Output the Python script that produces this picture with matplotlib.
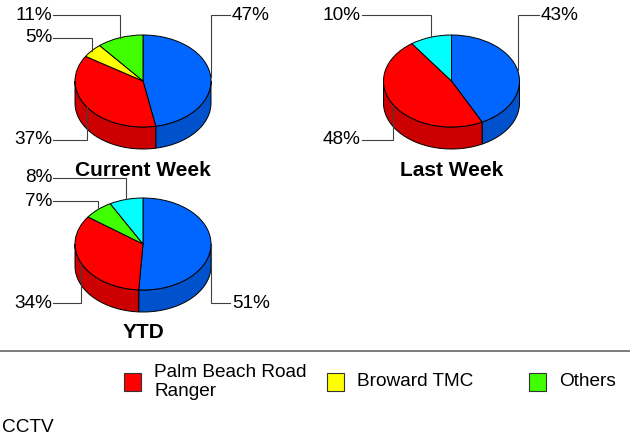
import numpy as np
import matplotlib
matplotlib.use("Agg")
import matplotlib.pyplot as plt
from matplotlib.patches import Wedge, Polygon, Rectangle
from matplotlib.transforms import Affine2D
from matplotlib.colors import to_rgb

plt.rcParams["font.family"] = ["Liberation Sans", "DejaVu Sans"]

# Sources, in the clockwise order the slices are drawn (starting at 12 o'clock)
categories = [None, "Palm Beach Road Ranger", "Broward TMC", "Others", "CCTV"]
colors = ["#0066FF", "#FF0000", "#FFFF00", "#40FF00", "#00FFFF"]

# Percent share per source; None = source absent from that period
titles = ["Current Week", "Last Week", "YTD"]
current_week = [47, 37, 5, 11, None]
last_week = [43, 48, None, None, 10]
ytd = [51, 34, None, 7, 8]

# Legend entries shown in the first row
legend_items = ["Palm Beach Road Ranger", "Broward TMC", "Others"]
legend_text = ["Palm Beach Road\nRanger", "Broward TMC", "Others"]
footer_text = "CCTV"

# ---- layout (pixel units of the canvas) ----
W, H = 630, 441
centers = [(143, 81), (451.5, 81), (143, 244)]
RX, RY, DEPTH = 68, 46, 22
LABEL_FS = 13.7
TITLE_FS = 15

fig = plt.figure(figsize=(W / 100, H / 100), dpi=100)
ax = fig.add_axes([0, 0, 1, 1])
ax.set_xlim(0, W)
ax.set_ylim(H, 0)
ax.axis("off")


def darker(c, f=0.8):
    r, g, b = to_rgb(c)
    return (r * f, g * f, b * f)


def draw_pie(values, center, title):
    cx, cy = center
    tr = Affine2D().scale(RX, -RY).translate(cx, cy)
    full = tr + ax.transData
    d = DEPTH / RY

    idx = [i for i, v in enumerate(values) if v is not None]
    vals = np.array([values[i] for i in idx], dtype=float)
    fr = vals / vals.sum()
    ends = np.cumsum(fr)
    starts = ends - fr

    slices = []
    for k, i in enumerate(idx):
        t_hi = 90 - starts[k] * 360
        t_lo = 90 - ends[k] * 360
        slices.append((i, t_lo, t_hi))

    # side walls (front half of the disc only)
    for i, t_lo, t_hi in slices:
        for kk in range(-2, 2):
            a = max(t_lo, 180 + 360 * kk)
            b = min(t_hi, 360 + 360 * kk)
            if b - a <= 0:
                continue
            t = np.radians(np.linspace(a, b, 80))
            top = np.column_stack([np.cos(t), np.sin(t)])
            bot = np.column_stack([np.cos(t[::-1]), np.sin(t[::-1]) - d])
            ax.add_patch(Polygon(np.vstack([top, bot]), closed=True,
                                 facecolor=darker(colors[i]), edgecolor="black",
                                 linewidth=0.7, transform=full, zorder=1))

    # top faces
    for i, t_lo, t_hi in slices:
        ax.add_patch(Wedge((0, 0), 1, t_lo, t_hi, facecolor=colors[i],
                           edgecolor="black", linewidth=0.7,
                           transform=full, zorder=2))

    # percentage labels with elbow leader lines
    anchors = []
    for (i, t_lo, t_hi) in slices:
        m = np.radians((t_lo + t_hi) / 2)
        px, py = tr.transform((np.cos(m), np.sin(m)))
        anchors.append((i, px, py))

    groups = {}
    for i, px, py in anchors:
        side = "L" if px < cx else "R"
        row = "T" if py < cy else "B"
        groups.setdefault((side, row), []).append((i, px, py))

    for (side, row), items in groups.items():
        items.sort(key=lambda it: it[2])
        for n, (i, px, py) in enumerate(items):
            ly = (cy - 66 + 23 * n) if row == "T" else (cy + 59 + 23 * n)
            if side == "L":
                ex = cx - 90
                tx, ha = ex - 1, "right"
            else:
                ex = cx + 87
                tx, ha = ex + 2, "left"
            ax.plot([px, px, ex], [py, ly, ly], color="#404040",
                    linewidth=0.8, zorder=3, solid_joinstyle="miter")
            ax.text(tx, ly, f"{values[i]}%", ha=ha, va="center",
                    fontsize=LABEL_FS, color="black", zorder=4)

    ty = cy + 89
    ax.text(cx, ty, title, ha="center", va="center", fontsize=TITLE_FS,
            fontweight="bold", color="black")


for vals, c, t in zip([current_week, last_week, ytd], centers, titles):
    draw_pie(vals, c, t)

# separator above the legend
ax.plot([0, W], [351, 351], color="#666666", linewidth=1.2)

# legend
legend_x = [124, 327, 529]
for name, label, x0 in zip(legend_items, legend_text, legend_x):
    col = colors[categories.index(name)]
    ax.add_patch(Rectangle((x0, 373), 17, 18, facecolor=col,
                           edgecolor="#333333", linewidth=0.8))
    ax.text(x0 + 30, 382, label, ha="left", va="center",
            fontsize=LABEL_FS, linespacing=1.08, color="black")

ax.text(2, 427, footer_text, ha="left", va="center", fontsize=LABEL_FS,
        color="black")

fig.savefig("out.png", dpi=100)
